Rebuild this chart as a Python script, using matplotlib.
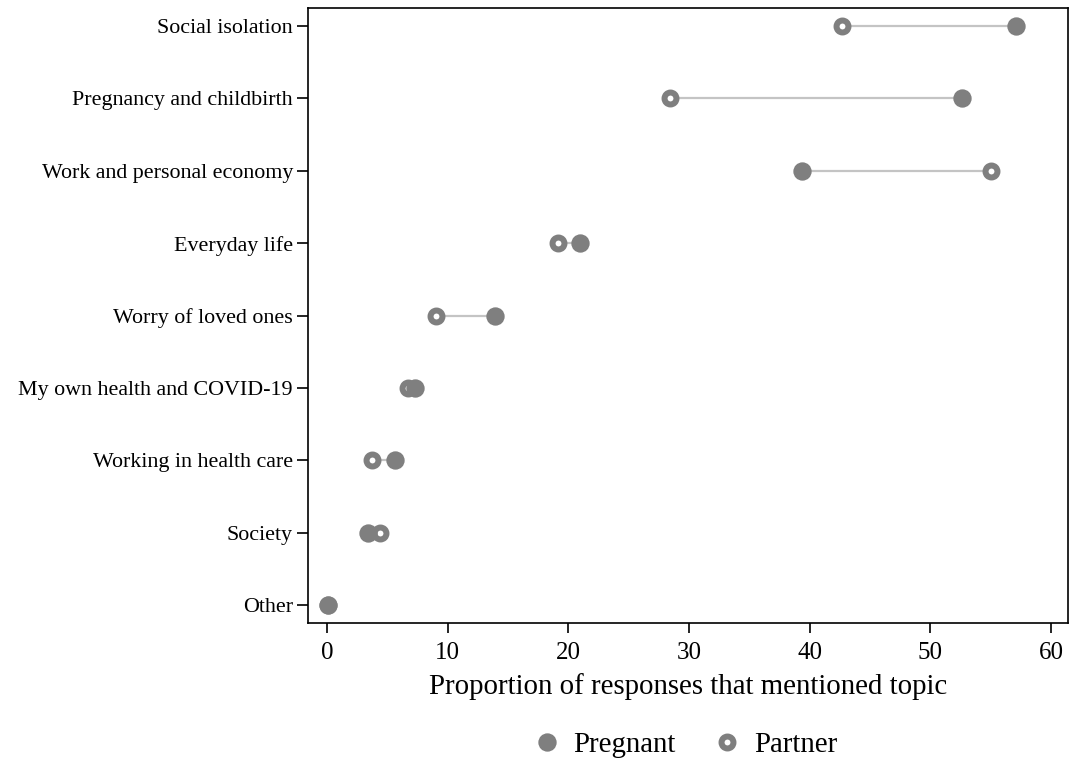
import numpy as np
import matplotlib
matplotlib.use("Agg")
import matplotlib.pyplot as plt
from matplotlib.lines import Line2D

plt.rcParams["font.family"] = ["Liberation Serif", "DejaVu Serif"]

# ---- data (percent of responses mentioning topic) ----
topics = ["Social isolation", "Pregnancy and childbirth", "Work and personal economy",
          "Everyday life", "Worry of loved ones", "My own health and COVID-19",
          "Working in health care", "Society", "Other"]
pregnant = [57.1, 52.6, 39.4, 21.0, 13.9, 7.3, 5.6, 3.4, 0.1]
partner = [42.7, 28.4, 55.0, 19.1, 9.0, 6.7, 3.7, 4.4, 0.1]

grey = "#7f7f7f"
fig = plt.figure(figsize=(10.7, 7.62), dpi=100)
ax = fig.add_axes([0.288, 0.182, 0.71, 0.8075])

y = np.arange(len(topics))
for yi, a, b in zip(y, pregnant, partner):
    ax.plot([a, b], [yi, yi], color="#c4c4c4", lw=1.6, zorder=1)
ax.plot(partner, y, "o", ls="none", ms=8.6, mfc="white", mec=grey, mew=4.3, zorder=2)
ax.plot(pregnant, y, "o", ls="none", ms=13.2, mfc=grey, mec="none", zorder=3)

ax.set_ylim(len(topics) - 0.75, -0.25)
ax.set_xlim(-1.57, 61.4)
ax.set_yticks(y)
ax.set_yticklabels(topics, fontsize=15.8)
ax.set_xticks(np.arange(0, 61, 10))
ax.tick_params(axis="x", labelsize=18, length=7.2, width=1.2, pad=6)
ax.tick_params(axis="y", length=8, width=1.2, pad=3)
ax.set_xlabel("Proportion of responses that mentioned topic", fontsize=20.8, labelpad=7)
for s in ax.spines.values():
    s.set_linewidth(1.2)

handles = [Line2D([], [], marker="o", ls="none", ms=13.2, mfc=grey, mec="none"),
           Line2D([], [], marker="o", ls="none", ms=8.6, mfc="white", mec=grey, mew=4.3)]
fig.legend(handles, ["Pregnant", "Partner"], loc="center", bbox_to_anchor=(0.640, 0.022),
           ncol=2, frameon=False, fontsize=20.8, handlelength=1.0, handletextpad=0.41,
           columnspacing=1.29)

fig.savefig("out.png", dpi=100)
